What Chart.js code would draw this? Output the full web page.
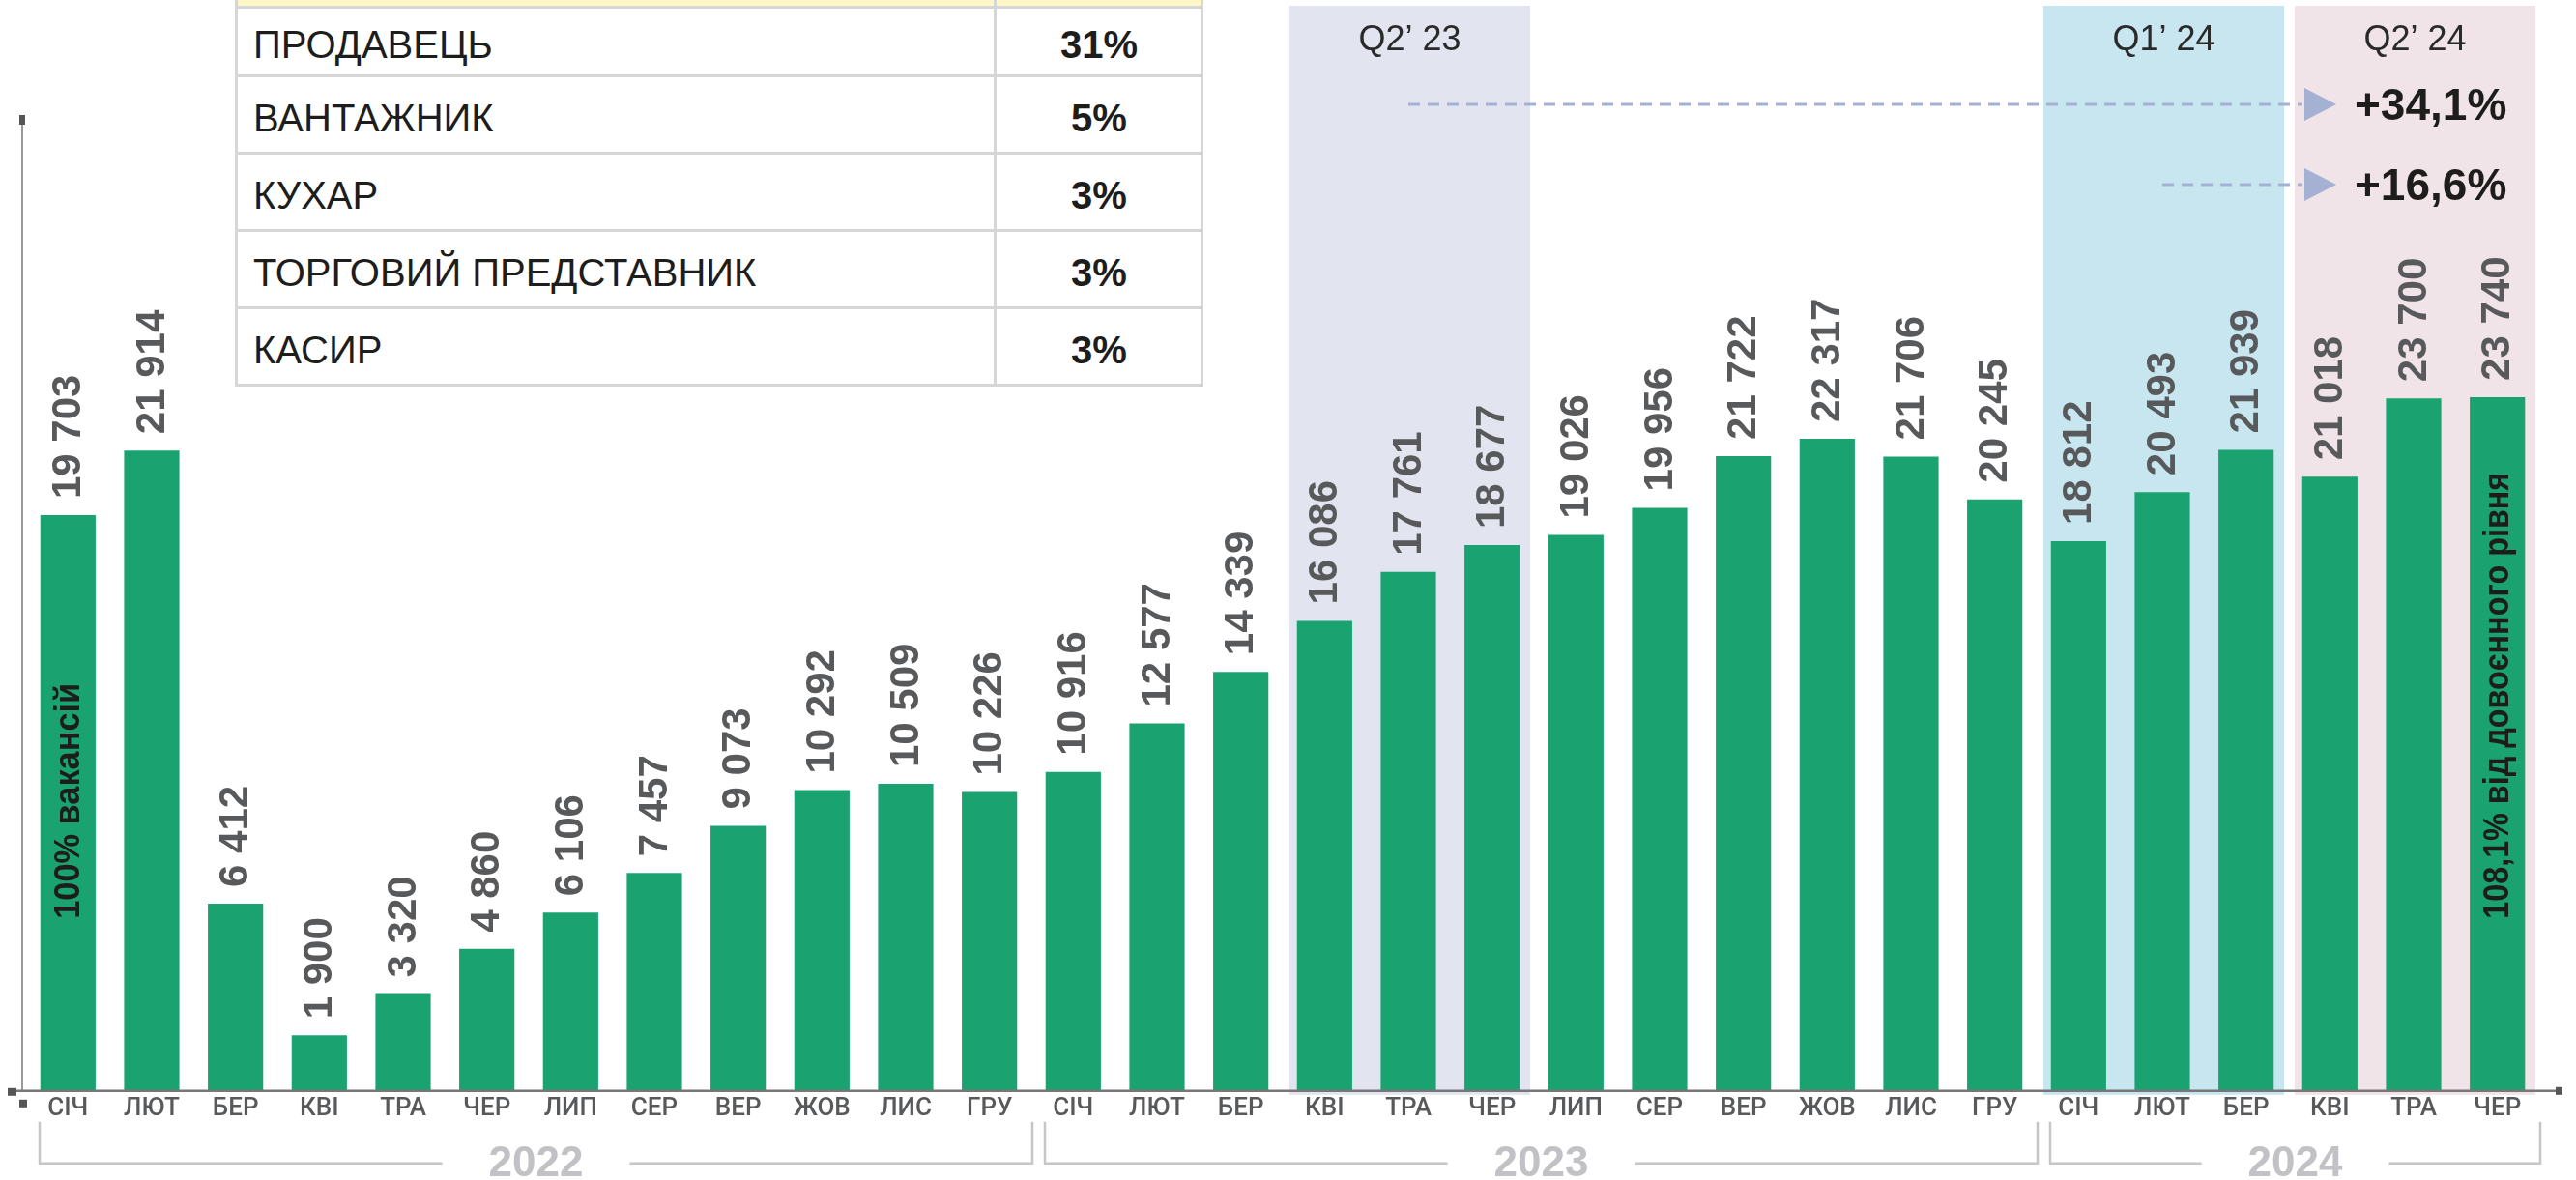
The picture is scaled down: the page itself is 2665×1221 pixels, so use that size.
<!DOCTYPE html>
<html lang="uk">
<head>
<meta charset="UTF-8">
<title>Кількість вакансій по місяцях 2022–2024</title>
<script src="https://cdn.jsdelivr.net/npm/chart.js@4.4.1/dist/chart.umd.min.js"></script>
<style>
  html, body { margin: 0; padding: 0; background: #fff; overflow: hidden; }
  #wrap { position: relative; width: 2665px; height: 1221px; }
  #top5 {
    position: absolute; left: 241px; top: 0; width: 1004px; height: 402px;
    overflow: hidden; font-family: "Liberation Sans", Arial, sans-serif;
  }
  #top5 table { border-collapse: collapse; width: 1000px; margin: -31px 0 0 2px; background: #fff; table-layout: fixed; }
  #top5 td { border: 3px solid #d6d6d8; font-size: 40px; color: #1d1d1b; padding: 6px 0 0 16px; line-height: 1; }
  #top5 td.pct { font-weight: bold; text-align: center; padding-left: 0; }
  #top5 tr.head td { background: #fdf6c6; height: 34px; padding: 0; }
</style>
</head>
<body>
<div id="wrap">
  <canvas id="chart" width="2665" height="1221"></canvas>
  <div id="top5">
    <table>
      <colgroup><col style="width:785px"><col style="width:215px"></colgroup>
      <tbody id="rows"><tr class="head"><td></td><td></td></tr></tbody>
    </table>
  </div>
</div>
<script>
// months of each year, repeated for the 30 bars
const monthNames = ["СІЧ", "ЛЮТ", "БЕР", "КВІ", "ТРА", "ЧЕР", "ЛИП", "СЕР", "ВЕР", "ЖОВ", "ЛИС", "ГРУ"];
const vacancies = [
  19703, 21914, 6412, 1900, 3320, 4860, 6106, 7457, 9073, 10292, 10509, 10226,
  10916, 12577, 14339, 16086, 17761, 18677, 19026, 19956, 21722, 22317, 21706, 20245,
  18812, 20493, 21939, 21018, 23700, 23740
];
const years = ["2022", "2023", "2024"];
const yearFirst = [0, 12, 24];
const yearLast = [11, 23, 29];

const quarters = ["Q2’ 23", "Q1’ 24", "Q2’ 24"];
const quarterFirst = [15, 24, 27];
const quarterLast = [17, 26, 29];

const growthLabels = ["+34,1%", "+16,6%"];
const growthFromBar = [16, 25];

const notes = ["100% вакансій", "108,1% від довоєнного рівня"];
const noteBar = [0, 29];
const noteLength = [244, 462];

const professions = ["ПРОДАВЕЦЬ", "ВАНТАЖНИК", "КУХАР", "ТОРГОВИЙ ПРЕДСТАВНИК", "КАСИР"];
const shares = ["31%", "5%", "3%", "3%", "3%"];

const labels = vacancies.map((v, i) => monthNames[i % 12]);
const bandColors = ["#e2e5f0", "#c8e6f0", "#f0e4e9"];
const FONT = '"Liberation Sans", Arial, sans-serif';

// table of top professions
const rows = document.getElementById("rows");
professions.forEach((p, i) => {
  const tr = document.createElement("tr");
  tr.innerHTML = `<td style="height:${i === 0 ? 62 : 71}px">${p}</td><td class="pct">${shares[i]}</td>`;
  rows.appendChild(tr);
});

function fmt(n) {
  return String(n).replace(/\B(?=(\d{3})+(?!\d))/g, " ");
}

const decorations = {
  id: "decorations",
  beforeDraw(chart) {
    const { ctx, chartArea } = chart;
    const x = chart.scales.x;
    const half = (x.getPixelForValue(1) - x.getPixelForValue(0)) / 2;
    // quarter bands
    quarters.forEach((q, k) => {
      const l = x.getPixelForValue(quarterFirst[k]) - half + 7;
      const r = x.getPixelForValue(quarterLast[k]) + half - 4;
      ctx.fillStyle = bandColors[k];
      ctx.fillRect(l, 6, r - l, chartArea.bottom + 4 - 6);
      ctx.fillStyle = "#2a2a2a";
      ctx.font = "36px " + FONT;
      ctx.textAlign = "center";
      ctx.textBaseline = "middle";
      ctx.fillText(q, (l + r) / 2, 42);
    });
  },
  afterDatasetsDraw(chart) {
    const { ctx, chartArea } = chart;
    const x = chart.scales.x;
    const meta = chart.getDatasetMeta(0);
    const half = (x.getPixelForValue(1) - x.getPixelForValue(0)) / 2;

    // value labels above bars
    ctx.save();
    ctx.font = "bold 42px " + FONT;
    ctx.fillStyle = "#58595b";
    ctx.textAlign = "left";
    ctx.textBaseline = "middle";
    meta.data.forEach((bar, i) => {
      ctx.save();
      ctx.translate(bar.x + 1, bar.y - 17);
      ctx.rotate(-Math.PI / 2);
      ctx.fillText(fmt(vacancies[i]), 0, 0);
      ctx.restore();
    });
    ctx.restore();

    // notes inside bars
    ctx.save();
    ctx.font = "bold 37px " + FONT;
    ctx.fillStyle = "#1d1d1b";
    ctx.textAlign = "left";
    ctx.textBaseline = "middle";
    notes.forEach((t, k) => {
      const bar = meta.data[noteBar[k]];
      ctx.save();
      ctx.translate(bar.x + 1, chartArea.bottom - 178);
      ctx.rotate(-Math.PI / 2);
      ctx.fillText(t, 0, 0, noteLength[k]);
      ctx.restore();
    });
    ctx.restore();

    // dashed growth arrows
    const arrowX = x.getPixelForValue(quarterFirst[2]) - half + 17;
    const arrowY = [108, 191];
    ctx.save();
    growthLabels.forEach((g, k) => {
      const y = arrowY[k];
      ctx.strokeStyle = "#a5b1d3";
      ctx.lineWidth = 3;
      ctx.setLineDash([12, 8]);
      ctx.beginPath();
      ctx.moveTo(x.getPixelForValue(growthFromBar[k]), y);
      ctx.lineTo(arrowX - 2, y);
      ctx.stroke();
      ctx.setLineDash([]);
      ctx.fillStyle = "#a5b1d3";
      ctx.beginPath();
      ctx.moveTo(arrowX, y - 17);
      ctx.lineTo(arrowX + 33, y);
      ctx.lineTo(arrowX, y + 17);
      ctx.closePath();
      ctx.fill();
      ctx.fillStyle = "#1d1d1b";
      ctx.font = "bold 46px " + FONT;
      ctx.textAlign = "left";
      ctx.textBaseline = "middle";
      ctx.fillText(g, arrowX + 52, y + 3);
    });
    ctx.restore();
  },
  afterDraw(chart) {
    const { ctx, chartArea } = chart;
    const x = chart.scales.x;
    const half = (x.getPixelForValue(1) - x.getPixelForValue(0)) / 2;
    const b = chartArea.bottom;

    // axis lines and end markers
    ctx.save();
    ctx.strokeStyle = "#777";
    ctx.lineWidth = 1.5;
    ctx.beginPath();
    ctx.moveTo(chartArea.left - 4, chartArea.top);
    ctx.lineTo(chartArea.left - 4, b);
    ctx.stroke();
    ctx.lineWidth = 2.5;
    ctx.beginPath();
    ctx.moveTo(12, b);
    ctx.lineTo(2647, b);
    ctx.stroke();
    ctx.fillStyle = "#555";
    ctx.fillRect(chartArea.left - 7, chartArea.top - 5, 6, 10);
    ctx.fillRect(8, b - 3, 9, 8);
    ctx.fillRect(20, b + 9, 8, 8);
    ctx.fillRect(2644, b - 4, 7, 8);
    ctx.restore();

    // year brackets
    ctx.save();
    ctx.strokeStyle = "#c6c6c9";
    ctx.lineWidth = 2.5;
    ctx.font = "bold 44px " + FONT;
    ctx.fillStyle = "#c2c2c6";
    ctx.textAlign = "center";
    ctx.textBaseline = "middle";
    years.forEach((yr, k) => {
      const l = x.getPixelForValue(yearFirst[k]) - half + 14;
      const r = x.getPixelForValue(yearLast[k]) + half + 1;
      const yTop = b + 32, yLine = b + 75;
      const mid = (l + r) / 2;
      const w = ctx.measureText(yr).width;
      ctx.beginPath();
      ctx.moveTo(l, yTop);
      ctx.lineTo(l, yLine);
      ctx.lineTo(mid - w / 2 - 48, yLine);
      ctx.moveTo(mid + w / 2 + 48, yLine);
      ctx.lineTo(r, yLine);
      ctx.lineTo(r, yTop);
      ctx.stroke();
      ctx.fillText(yr, mid, yLine + 1);
    });
    ctx.restore();
  }
};

new Chart(document.getElementById("chart"), {
  type: "bar",
  data: {
    labels,
    datasets: [{
      data: vacancies,
      backgroundColor: "#1aa370",
      categoryPercentage: 1,
      barPercentage: 0.66
    }]
  },
  options: {
    responsive: false,
    animation: false,
    devicePixelRatio: 1,
    layout: { padding: { left: 27, right: 38, top: 124, bottom: 55 } },
    plugins: { legend: { display: false }, tooltip: { enabled: false } },
    scales: {
      x: {
        grid: { display: false, drawTicks: false },
        border: { display: false },
        ticks: {
          font: { family: "Roboto, " + FONT, size: 26, weight: 500 },
          color: "#58595b",
          padding: 3,
          maxRotation: 0,
          autoSkip: false
        }
      },
      y: { display: false, min: 0, max: 33230 }
    }
  },
  plugins: [decorations]
});
</script>
</body>
</html>
